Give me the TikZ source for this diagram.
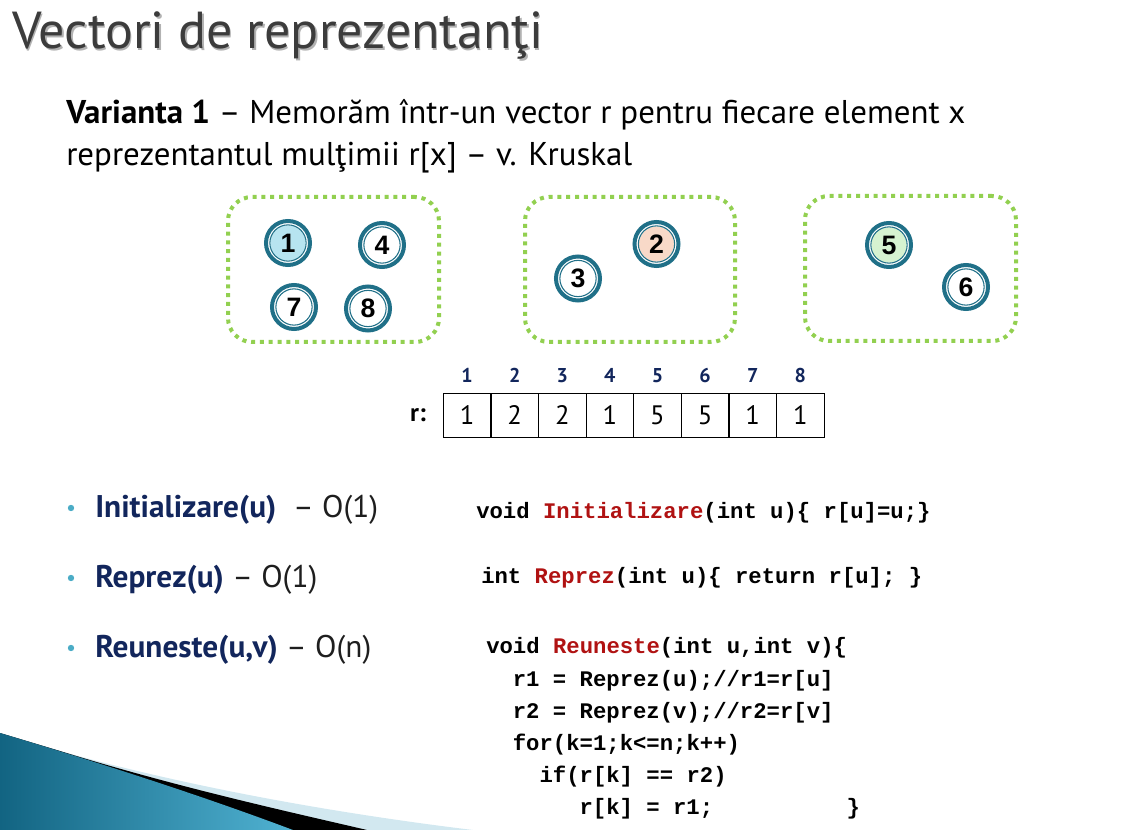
\documentclass[tikz,border=0pt]{standalone}
\usepackage{fontspec}
\setmainfont{PT Sans}
\setmonofont{Liberation Mono}
\newfontfamily\numfont{Liberation Sans}

\definecolor{ringteal}{RGB}{32,112,136}
\definecolor{dotgreen}{RGB}{146,208,80}
\definecolor{navy}{RGB}{18,38,92}
\definecolor{codered}{RGB}{176,18,18}
\definecolor{bulletblue}{RGB}{75,172,198}
\definecolor{fillblue}{RGB}{183,228,240}
\definecolor{fillpeach}{RGB}{248,217,200}
\definecolor{fillgreen}{RGB}{214,242,208}
\definecolor{titlegray}{RGB}{60,60,60}
\definecolor{textgray}{RGB}{30,30,30}
\definecolor{paleband}{RGB}{210,232,240}
\definecolor{swooshdark}{RGB}{18,100,130}
\definecolor{swooshlight}{RGB}{80,178,210}

\tikzset{
  setbox/.style={draw=dotgreen, line width=3pt, dash pattern=on 3pt off 3.6pt,
    rounded corners=18pt, inner sep=0pt},
  vert/.style={circle, minimum size=33pt, inner sep=0pt, draw=ringteal,
    line width=3pt, fill=white, font=\numfont\bfseries\fontsize{20}{20}\selectfont,
    path picture={
      \fill[#1] (path picture bounding box.center) circle[radius=13.2pt];
      \draw[ringteal, line width=0.8pt] (path picture bounding box.center) circle[radius=13.6pt];
    }},
  vert/.default=white,
  cell/.style={draw, line width=0.9pt, minimum width=35.7pt, minimum height=33pt,
    inner sep=0pt, font=\fontsize{20}{20}\selectfont},
  idx/.style={text=navy, font=\bfseries\fontsize{15}{15}\selectfont, inner sep=0pt},
  code/.style={anchor=base west, inner sep=0pt,
    font=\ttfamily\bfseries\fontsize{16.7}{16.7}\selectfont},
  item/.style={anchor=base west, inner sep=0pt, font=\fontsize{23.5}{23.5}\selectfont},
  body/.style={anchor=base west, inner sep=0pt, font=\fontsize{24.7}{24.7}\selectfont},
}
\newcommand{\kw}[1]{\textcolor{codered}{#1}}

\begin{document}
\begin{tikzpicture}[x=0.75pt,y=-0.75pt]
\useasboundingbox (0,0) rectangle (1124,830);

% bottom-left swoosh
\fill[paleband] (0,733) -- (60,751) .. controls (200,790) and (350,815) .. (473,830) -- (0,830) -- cycle;
\fill[black] (0,733) -- (60,751) .. controls (180,788) and (290,812) .. (367,830) -- (0,830) -- cycle;
\shade[left color=swooshdark, right color=swooshlight]
  (0,733) .. controls (100,763) and (200,795) .. (293,830) -- (0,830) -- cycle;

% title
\node[anchor=base west, inner sep=0pt, text=black!30, font=\fontsize{39}{39}\selectfont]
  (titleshadow) at (13.5,50.5) {Vectori de reprezentanţi};
\node[anchor=base west, inner sep=0pt, text=titlegray, font=\fontsize{39}{39}\selectfont]
  (title) at (12,49) {Vectori de reprezentanţi};

% introductory text
\node[body] (line1) at (66,124) {\textbf{Varianta 1} – Memorăm într-un vector r pentru fiecare element x};
\node[body] (line2) at (66,166) {reprezentantul mulţimii r[x] – v. Kruskal};

% the three sets
\node[setbox, minimum width=158.25pt, minimum height=108.75pt] (set1) at (333.5,269.5) {};
\node[setbox, minimum width=157.5pt, minimum height=108.75pt] (set2) at (630,269.5) {};
\node[setbox, minimum width=158.25pt, minimum height=108.75pt] (set3) at (910.5,268.5) {};

\node[vert=fillblue] (v1) at (288,243) {1};
\node[vert] (v4) at (382,245) {4};
\node[vert] (v7) at (294,307) {7};
\node[vert] (v8) at (368,308.5) {8};
\node[vert] (v3) at (578,278.5) {3};
\node[vert=fillpeach] (v2) at (656.5,244) {2};
\node[vert=fillgreen] (v5) at (889,245) {5};
\node[vert] (v6) at (966,287) {6};

% representative vector
\node[font=\bfseries\fontsize{19}{19}\selectfont, inner sep=0pt] (rlabel) at (418,415) {r:};
\foreach \v [count=\i] in {1,2,2,1,5,5,1,1} {
  \node[cell] (c\i) at ({443.3+47.6*(\i-0.5)},415.3) {\v};
  \node[idx] (i\i) at ({443.3+47.6*(\i-0.5)},375.5) {\i};
}

% operations
\foreach \y in {508,578,648} \fill[bulletblue] (71,\y) circle[radius=3.2];
\node[item] (op1) at (95,517) {\textcolor{navy}{\bfseries Initializare(u)}~~\textcolor{textgray}{– O(1)}};
\node[item] (op2) at (95,587) {\textcolor{navy}{\bfseries Reprez(u)}~\textcolor{textgray}{– O(1)}};
\node[item] (op3) at (95,657) {\textcolor{navy}{\bfseries Reuneste(u,v)}~\textcolor{textgray}{– O(n)}};

% code
\node[code] (k1) at (476,518) {void \kw{Initializare}(int u)\{ r[u]=u;\}};
\node[code] (k2) at (481,583.5) {int \kw{Reprez}(int u)\{ return r[u]; \}};
\node[code] (k3) at (486,653) {void \kw{Reuneste}(int u,int v)\{};
\node[code] (k4) at (512.6,686) {r1 = Reprez(u);//r1=r[u]};
\node[code] (k5) at (512.6,718) {r2 = Reprez(v);//r2=r[v]};
\node[code] (k6) at (512.6,750.5) {for(k=1;k<=n;k++)};
\node[code] (k7) at (539.3,782.5) {if(r[k] == r2)};
\node[code] (k8) at (579.3,814.5) {r[k] = r1;\hspace{100pt}\}};
\end{tikzpicture}
\end{document}
